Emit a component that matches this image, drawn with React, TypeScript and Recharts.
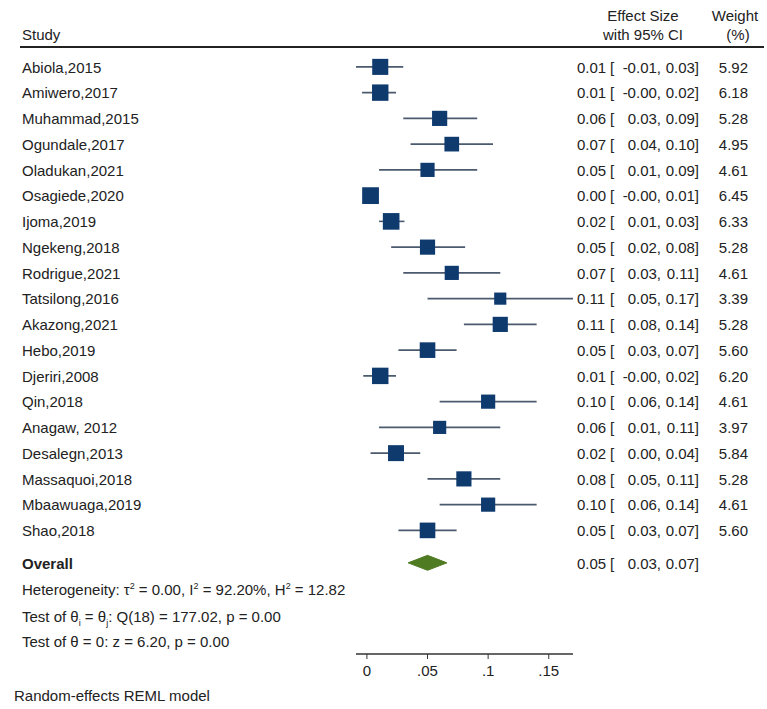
import { ScatterChart, Scatter, XAxis, YAxis, ErrorBar, Customized } from 'recharts'

// study data (effect size, 95% CI, weight %)
const studies = [
  'Abiola,2015', 'Amiwero,2017', 'Muhammad,2015', 'Ogundale,2017', 'Oladukan,2021',
  'Osagiede,2020', 'Ijoma,2019', 'Ngekeng,2018', 'Rodrigue,2021', 'Tatsilong,2016',
  'Akazong,2021', 'Hebo,2019', 'Djeriri,2008', 'Qin,2018', 'Anagaw, 2012',
  'Desalegn,2013', 'Massaquoi,2018', 'Mbaawuaga,2019', 'Shao,2018',
]
const effect = [0.011, 0.011, 0.06, 0.07, 0.05, 0.003, 0.02, 0.05, 0.07, 0.11, 0.11, 0.05, 0.011, 0.1, 0.06, 0.024, 0.08, 0.1, 0.05]
const lower = [-0.009, -0.004, 0.03, 0.036, 0.01, -0.002, 0.01, 0.02, 0.03, 0.05, 0.08, 0.026, -0.003, 0.06, 0.01, 0.003, 0.05, 0.06, 0.026]
const upper = [0.03, 0.024, 0.091, 0.104, 0.091, 0.009, 0.031, 0.081, 0.11, 0.17, 0.14, 0.074, 0.024, 0.14, 0.11, 0.044, 0.11, 0.14, 0.074]
const weight = [5.92, 6.18, 5.28, 4.95, 4.61, 6.45, 6.33, 5.28, 4.61, 3.39, 5.28, 5.6, 6.2, 4.61, 3.97, 5.84, 5.28, 4.61, 5.6]

const overallEffect = 0.05
const overallLower = 0.034
const overallUpper = 0.066

const xTicks = [0, 0.05, 0.1, 0.15]

// row layout (in row units on the y axis)
const studyRows = studies.map((_, i) => i)
const overallRow = 19.26
const statRows = [20.27, 21.32, 22.29]
const diamondHalf = 0.29

const FONT = '"Liberation Sans", Arial, Helvetica, sans-serif'
const TEXT = '#222'
const NAVY = '#0e3a6e'
const CI = '#4b5a6e'
const GREEN = '#4f7b22'

const data = studies.map((name, i) => ({
  name,
  row: studyRows[i],
  est: effect[i],
  w: weight[i],
  err: [effect[i] - lower[i], upper[i] - effect[i]],
}))

const diamond = [
  { est: overallLower, row: overallRow },
  { est: overallEffect, row: overallRow - diamondHalf },
  { est: overallUpper, row: overallRow },
  { est: overallEffect, row: overallRow + diamondHalf },
  { est: overallLower, row: overallRow },
]

const fmt = (v: number) => v.toFixed(2)

function Square(p: any) {
  const s = 6.6 * Math.sqrt(p.payload.w)
  return <rect x={p.cx - s / 2} y={p.cy - s / 2} width={s} height={s} fill={NAVY} />
}

function Columns({ y, est, lo, hi, w }: { y: number; est: number; lo: number; hi: number; w?: number }) {
  return (
    <g>
      <text x={577} y={y} dy="0.38em">{fmt(est)}</text>
      <text x={610} y={y} dy="0.38em">[</text>
      <text x={661} y={y} dy="0.38em" textAnchor="end">{fmt(lo)},</text>
      <text x={699} y={y} dy="0.38em" textAnchor="end">{fmt(hi)}]</text>
      {w !== undefined && (
        <text x={748} y={y} dy="0.38em" textAnchor="end">{fmt(w)}</text>
      )}
    </g>
  )
}

function RowTick(props: any) {
  const { y, payload } = props
  const v = payload.value
  const i = studyRows.indexOf(v)
  const common = { fontFamily: FONT, fontSize: 15, fill: TEXT }
  if (i >= 0) {
    return (
      <g {...common}>
        <text x={22} y={y} dy="0.38em">{studies[i]}</text>
        <Columns y={y} est={effect[i]} lo={lower[i]} hi={upper[i]} w={weight[i]} />
      </g>
    )
  }
  if (v === overallRow) {
    return (
      <g {...common}>
        <text x={22} y={y} dy="0.38em" fontWeight="bold">Overall</text>
        <Columns y={y} est={overallEffect} lo={overallLower} hi={overallUpper} />
      </g>
    )
  }
  const k = statRows.indexOf(v)
  if (k === 0) {
    return (
      <text x={22} y={y} dy="0.38em" {...common}>
        Heterogeneity: τ<tspan dy={-6} fontSize={9}>2</tspan>
        <tspan dy={6}> = 0.00, I</tspan><tspan dy={-6} fontSize={9}>2</tspan>
        <tspan dy={6}> = 92.20%, H</tspan><tspan dy={-6} fontSize={9}>2</tspan>
        <tspan dy={6}> = 12.82</tspan>
      </text>
    )
  }
  if (k === 1) {
    return (
      <text x={22} y={y} dy="0.38em" {...common}>
        Test of θ<tspan dy={4} fontSize={9}>i</tspan>
        <tspan dy={-4}> = θ</tspan><tspan dy={4} fontSize={9}>j</tspan>
        <tspan dy={-4}>: Q(18) = 177.02, p = 0.00</tspan>
      </text>
    )
  }
  if (k === 2) {
    return (
      <text x={22} y={y} dy="0.38em" {...common}>
        Test of θ = 0: z = 6.20, p = 0.00
      </text>
    )
  }
  return <g />
}

function Header() {
  return (
    <g fontFamily={FONT} fontSize={15} fill={TEXT}>
      <text x={22} y={40}>Study</text>
      <text x={643} y={21} textAnchor="middle">Effect Size</text>
      <text x={643} y={40} textAnchor="middle">with 95% CI</text>
      <text x={735} y={21} textAnchor="middle">Weight</text>
      <text x={738} y={40} textAnchor="middle">(%)</text>
      <line x1={20} x2={764} y1={47} y2={47} stroke={TEXT} strokeWidth={2} />
      <text x={14} y={701}>Random-effects REML model</text>
    </g>
  )
}

export default function App() {
  return (
    <div style={{ position: 'absolute', left: 0, top: 0, width: 767, height: 709, background: '#fff', fontFamily: FONT }}>
      <ScatterChart width={767} height={709} margin={{ top: 54, right: 194, bottom: 0, left: 0 }}>
        <XAxis
          type="number"
          dataKey="est"
          domain={[-0.009, 0.17]}
          allowDataOverflow
          ticks={xTicks}
          tickFormatter={(v: number) => (v === 0 ? '0' : String(v).replace(/^0/, ''))}
          height={55}
          tickSize={5}
          tickMargin={6}
          stroke="#333"
          axisLine={{ stroke: '#333', strokeWidth: 1.5 }}
          tickLine={{ stroke: '#333' }}
          tick={{ fill: TEXT, fontSize: 15, fontFamily: FONT }}
        />
        <YAxis
          type="number"
          dataKey="row"
          domain={[-0.5, 22.8]}
          allowDataOverflow
          reversed
          width={356}
          ticks={[...studyRows, overallRow, ...statRows]}
          interval={0}
          axisLine={false}
          tickLine={false}
          tick={RowTick}
        />
        <Scatter data={data} shape={Square} isAnimationActive={false}>
          <ErrorBar dataKey="err" direction="x" width={0} stroke={CI} strokeWidth={1.6} isAnimationActive={false} />
        </Scatter>
        <Scatter
          data={diamond}
          shape={() => <g />}
          line={{ fill: GREEN, stroke: GREEN, strokeWidth: 1 }}
          lineJointType="linear"
          fill={GREEN}
          isAnimationActive={false}
        />
        <Customized component={Header} />
      </ScatterChart>
    </div>
  )
}
